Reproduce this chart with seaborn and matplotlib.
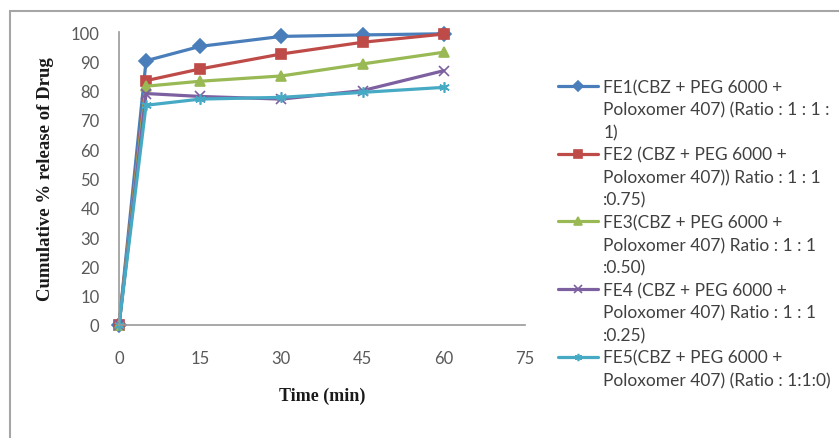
import numpy as np
import pandas as pd
import seaborn as sns
import matplotlib.pyplot as plt
from matplotlib.lines import Line2D
from matplotlib.patches import Rectangle

# ---- data ----
time_min = [0, 5, 15, 30, 45, 60]
fe1 = [0, 90.2, 95.1, 98.5, 99.0, 99.4]
fe2 = [0, 83.4, 87.4, 92.5, 96.5, 99.3]
fe3 = [0, 81.5, 83.2, 85.0, 89.1, 93.1]
fe4 = [0, 79.0, 78.0, 77.1, 80.0, 86.8]
fe5 = [0, 75.0, 77.1, 77.7, 79.4, 81.1]

series_names = ["FE1", "FE2", "FE3", "FE4", "FE5"]
legend_lines = [
    ["FE1(CBZ + PEG 6000 +", "Poloxomer 407) (Ratio : 1 : 1 :", "1)"],
    ["FE2 (CBZ + PEG 6000 +", "Poloxomer 407)) Ratio : 1 : 1", ":0.75)"],
    ["FE3(CBZ + PEG 6000 +", "Poloxomer 407) Ratio : 1 : 1", ":0.50)"],
    ["FE4 (CBZ + PEG 6000 +", "Poloxomer 407) Ratio : 1 : 1", ":0.25)"],
    ["FE5(CBZ + PEG 6000 +", "Poloxomer 407) (Ratio : 1:1:0)"],
]
x_ticks = [0, 15, 30, 45, 60, 75]
y_ticks = list(range(0, 101, 10))

colors = ["#4A7EBB", "#BE4B48", "#98B954", "#7D60A0", "#46AAC5"]
markers = ["D", "s", "^", "x", (6, 2, 0)]

df = pd.DataFrame({
    "time": time_min * 5,
    "release": fe1 + fe2 + fe3 + fe4 + fe5,
    "series": np.repeat(series_names, len(time_min)),
})

sns.set_style("white")
plt.rcParams["font.family"] = ["Lato", "DejaVu Sans"]

W, H = 839, 439
fig = plt.figure(figsize=(W / 100, H / 100), dpi=100)
ax = fig.add_axes([119 / W, 113 / H, 406 / W, 293 / H])

for name, c, m in zip(series_names, colors, markers):
    sub = df[df["series"] == name]
    sns.lineplot(data=sub, x="time", y="release", color=c, marker=m,
                 markersize=7.5, markeredgecolor=c, markerfacecolor=c,
                 markeredgewidth=1.2, linewidth=2.3, label=name, ax=ax)

for ln in ax.lines:
    ln.set_clip_on(False)

ax.set_xlim(0, 75)
ax.set_ylim(0, 100)
ax.set_xticks(x_ticks)
ax.set_yticks(y_ticks)
ax.tick_params(axis="x", length=0, pad=18, labelsize=12, labelcolor="#595959")
ax.tick_params(axis="y", length=0, pad=14, labelsize=12, labelcolor="#595959")
for s in ["top", "right"]:
    ax.spines[s].set_visible(False)
for s in ["left", "bottom"]:
    ax.spines[s].set_color("#9a9a9a")
    ax.spines[s].set_linewidth(1.2)

ax.set_xlabel("Time (min)", fontfamily="Liberation Serif", fontweight="bold",
              fontsize=13, color="#1a1a1a")
ax.set_ylabel("Cumulative % release of Drug", fontfamily="Liberation Serif",
              fontweight="bold", fontsize=13.5, color="#1a1a1a")
ax.xaxis.set_label_coords(0.5, -0.21)
ax.yaxis.label.set_va("center")
ax.yaxis.set_label_coords(-0.18, 0.5)

# legend: one row per text line, handle only on the first line of each entry
handles, _ = ax.get_legend_handles_labels()
ax.get_legend().remove()
blank = Line2D([], [], linestyle="none")
leg_h, leg_l = [], []
for h, lines in zip(handles, legend_lines):
    for i, t in enumerate(lines):
        leg_h.append(h if i == 0 else blank)
        leg_l.append(t)
leg = fig.legend(leg_h, leg_l, loc="upper left",
                 bbox_to_anchor=(558 / W, 1 - 80 / H),
                 frameon=False, borderpad=0, borderaxespad=0,
                 handlelength=2.3, handletextpad=0.3, labelspacing=0.37,
                 markerscale=0.7, fontsize=12.5, labelcolor="#404040")

# chart frame
fig.add_artist(Rectangle((10 / W, -0.1), 0.99, (H - 12) / H + 0.1,
                         transform=fig.transFigure, fill=False,
                         edgecolor="#a6a6a6", linewidth=1.5))

fig.savefig("out.png", dpi=100)
